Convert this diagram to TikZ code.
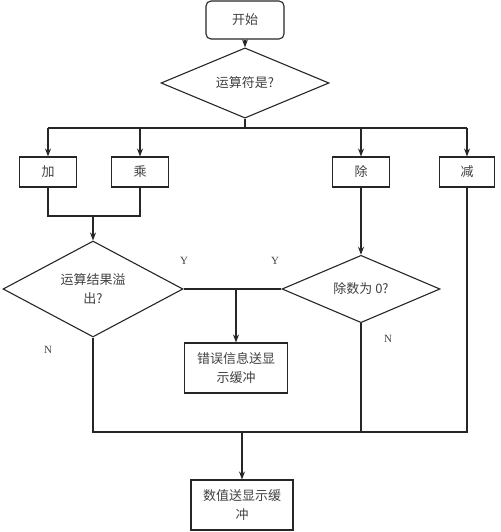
\documentclass[tikz,border=0pt]{standalone}
\usepackage{fontspec}
\setmainfont{Liberation Serif}
\newfontfamily\cjk{Noto Sans CJK SC}
\usetikzlibrary{shapes.geometric,arrows.meta}
\definecolor{ink}{HTML}{262626}
\definecolor{txt}{HTML}{404040}
\begin{document}
\begin{tikzpicture}[x=1pt,y=-1pt,
  line width=1.1pt, draw=ink,
  every node/.style={text=txt},
  arr/.style={-{Stealth[length=8pt,width=6pt]}},
  box/.style={draw=ink, rectangle, inner sep=0pt, align=center, font=\cjk\fontsize{13}{19}\selectfont},
  dia/.style={draw=ink, diamond, inner sep=0pt, align=center, font=\cjk\fontsize{13}{19}\selectfont},
  lab/.style={font=\fontsize{11}{12}\selectfont}]
\useasboundingbox (0,0) rectangle (500,532);
% nodes
\node[box, rounded corners=5pt, minimum width=78pt, minimum height=38pt] (start) at (245,20) {开始};
\node[dia, minimum width=168pt, minimum height=49pt] (d1) at (245,83) {运算符是?};
\node[box, minimum width=57pt, minimum height=30pt] (jia) at (48,172) {加};
\node[box, minimum width=57pt, minimum height=30pt] (cheng) at (140,172) {乘};
\node[box, minimum width=57pt, minimum height=30pt] (chu) at (361,172) {除};
\node[box, minimum width=55pt, minimum height=30pt] (jian) at (467,172) {减};
\node[dia, minimum width=180pt, minimum height=88pt] (d2) at (93,289) {运算结果溢\\出?};
\node[dia, minimum width=158pt, minimum height=49pt] (d3) at (361,289) {除数为 0?};
\node[box, minimum width=103pt, minimum height=50pt] (err) at (236,368) {错误信息送显\\示缓冲};
\node[box, minimum width=102pt, minimum height=50pt] (out) at (242,505) {数值送显示缓\\冲};
\node[lab] (y1) at (184,261) {Y};
\node[lab] (y2) at (275,261) {Y};
\node[lab] (n1) at (48,350) {N};
\node[lab] (n2) at (388,339) {N};
% helper coordinates
\coordinate (br) at (245,128);
\coordinate (mg) at (93,216);
\coordinate (yj) at (236,289);
\coordinate (bt) at (242,432);
% connectors
\draw[arr] (start) -- (d1);
\draw (d1.south) -- (br);
\draw (jia.north |- br) -- (jian.north |- br);
\draw[arr] (jia.north |- br) -- (jia.north);
\draw[arr] (cheng.north |- br) -- (cheng.north);
\draw[arr] (chu.north |- br) -- (chu.north);
\draw[arr] (jian.north |- br) -- (jian.north);
\draw (jia.south) -- (jia.south |- mg) -- (cheng.south |- mg) -- (cheng.south);
\draw[arr] (mg) -- (d2.north);
\draw[arr] (chu.south) -- (d3.north);
\draw (d2.east) -- (d3.west);
\draw[arr] (yj) -- (err.north);
\draw (d2.south) -- (d2.south |- bt) -- (jian.south |- bt) -- (jian.south);
\draw (d3.south) -- (d3.south |- bt);
\draw[arr] (out.north |- bt) -- (out.north);
\end{tikzpicture}
\end{document}
